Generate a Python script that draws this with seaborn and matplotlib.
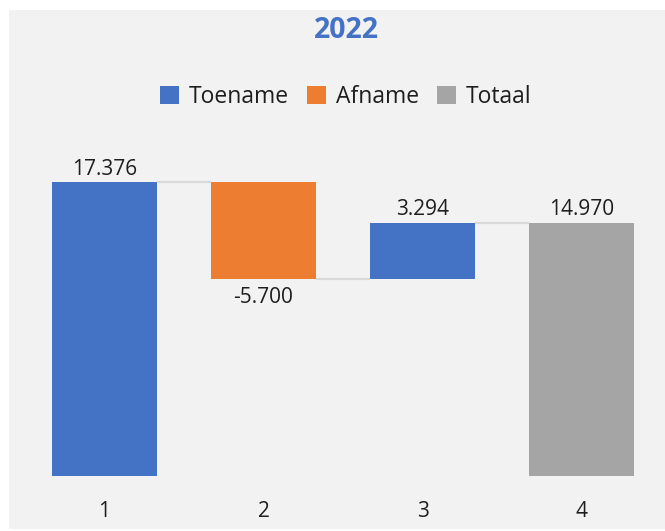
import matplotlib
matplotlib.use("Agg")
import matplotlib.pyplot as plt
import seaborn as sns
import pandas as pd
from matplotlib.patches import Patch, Rectangle

# ---- data ----
categories = ["1", "2", "3", "4"]
changes = [17376, -5700, 3294, 14970]
kinds = ["Toename", "Afname", "Toename", "Totaal"]
value_labels = ["17.376", "-5.700", "3.294", "14.970"]
title_text = "2022"
legend_labels = ["Toename", "Afname", "Totaal"]

colors = {"Toename": "#4472C4", "Afname": "#ED7D31", "Totaal": "#A5A5A5"}
bg = "#F2F2F2"
txt = "#1E1E1E"

# waterfall geometry from data
bottoms, heights, tops = [], [], []
running = 0
for c, k in zip(changes, kinds):
    if k == "Totaal":
        b, h = 0, c
        running = c
    elif c >= 0:
        b, h = running, c
        running += c
    else:
        b, h = running + c, -c
        running += c
    bottoms.append(b)
    heights.append(h)
    tops.append(running)

df = pd.DataFrame({"cat": categories, "height": heights, "kind": kinds})

sns.set_theme(style="white")
plt.rcParams["font.family"] = ["Open Sans", "Noto Sans", "DejaVu Sans"]

fig = plt.figure(figsize=(6.65, 5.31), dpi=100)
fig.patch.set_facecolor("white")
fig.patches.append(Rectangle((9 / 665, 2 / 531), 656 / 665, 519 / 531,
                             transform=fig.transFigure, facecolor=bg,
                             edgecolor="none", zorder=-10))

ax = fig.add_axes([25 / 665, 55 / 531, 636 / 665, 338 / 531])
ax.set_facecolor(bg)
ax.set_zorder(1)

palette = [colors[k] for k in kinds]
sns.barplot(data=df, x="cat", y="height", hue="cat", palette=palette,
            legend=False, width=0.66, ax=ax, saturation=1, zorder=3)

for p, b in zip(ax.patches, bottoms):
    p.set_y(b)
    p.set_edgecolor("none")

ax.set_ylim(0, 20000)
ax.set_xlim(-0.5, 3.5)

# connectors
w = 0.66
for i in range(len(categories) - 1):
    ax.plot([i + w / 2, i + 1 - w / 2], [tops[i], tops[i]],
            color="#D9D9D9", lw=1.6, zorder=2, solid_capstyle="butt")

# value labels
for i, (c, k, lab) in enumerate(zip(changes, kinds, value_labels)):
    if c >= 0:
        ax.annotate(lab, (i, bottoms[i] + heights[i]), xytext=(0, 2),
                    textcoords="offset points", ha="center", va="bottom",
                    fontsize=15, color=txt)
    else:
        ax.annotate(lab, (i, bottoms[i]), xytext=(0, -6),
                    textcoords="offset points", ha="center", va="top",
                    fontsize=15, color=txt)

ax.set_xlabel("")
ax.set_ylabel("")
ax.set_yticks([])
ax.tick_params(axis="x", length=0, pad=18, labelsize=15, labelcolor=txt)
for s in ax.spines.values():
    s.set_visible(False)

fig.text(346 / 665, 1 - 30 / 531, title_text, ha="center", va="center",
         fontsize=20.5, fontweight="bold", color="#4472C4")

handles = [Patch(facecolor=colors[l], edgecolor="none", label=l) for l in legend_labels]
fig.legend(handles=handles, loc="center", bbox_to_anchor=(346 / 665, 1 - 97 / 531),
           ncol=3, frameon=False, fontsize=16.5, handlelength=0.8,
           handleheight=0.8, handletextpad=0.45, columnspacing=0.8,
           labelcolor=txt)

fig.savefig("out.png", dpi=100, facecolor="white")
